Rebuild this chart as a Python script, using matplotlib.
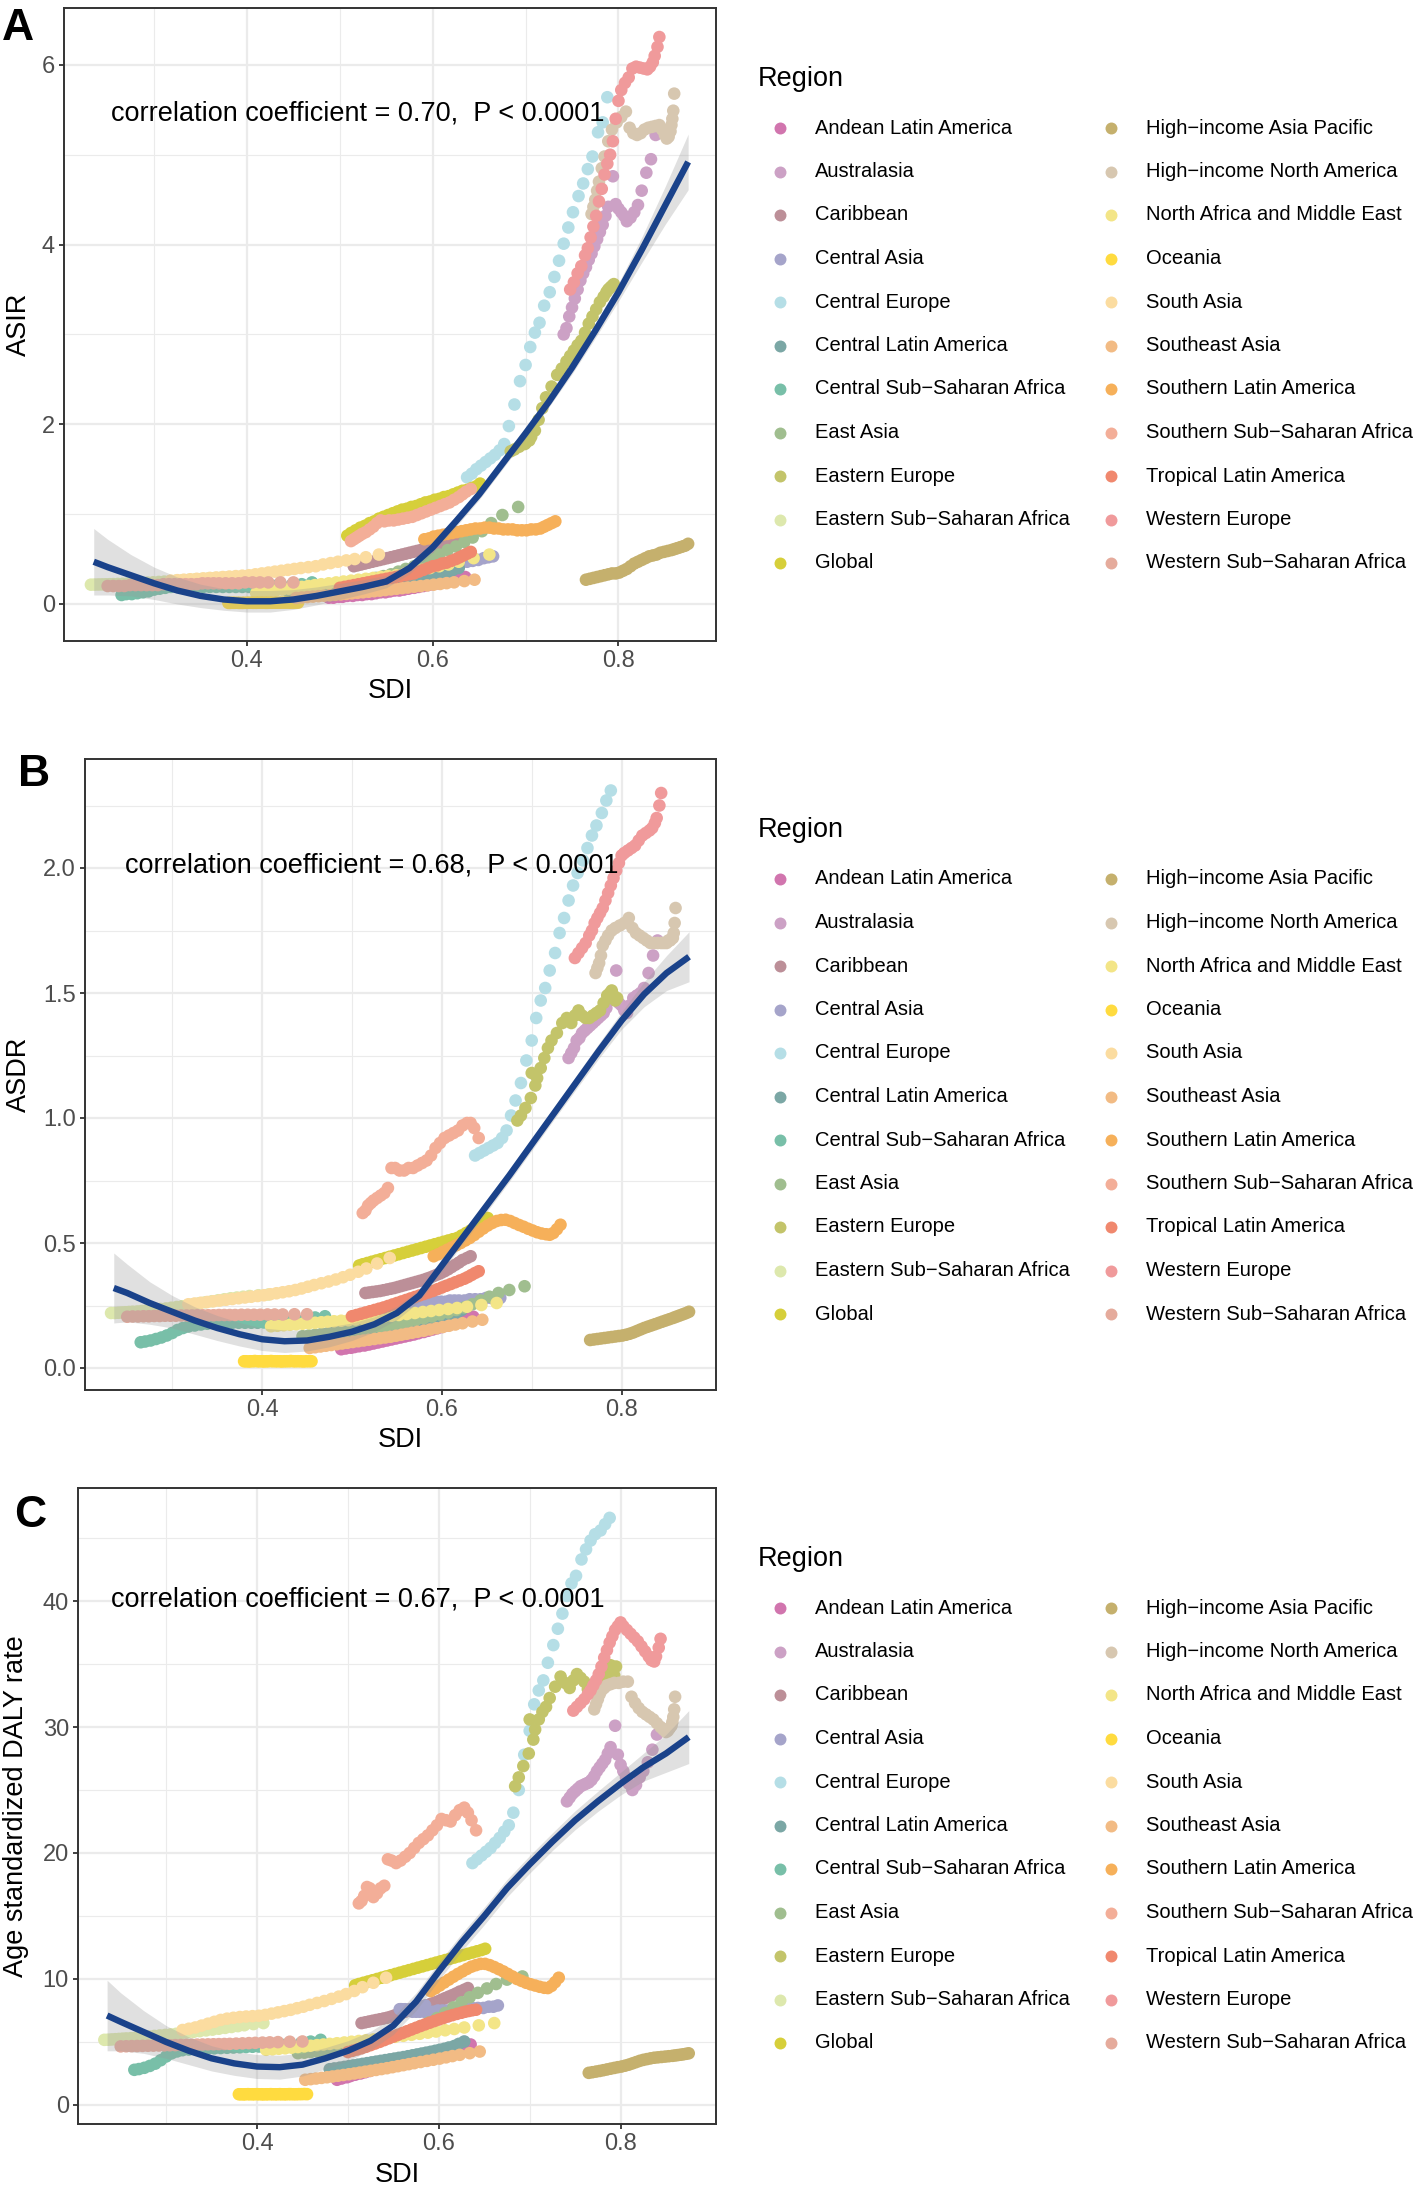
import numpy as np
import matplotlib
matplotlib.use("Agg")
import matplotlib.pyplot as plt
from matplotlib.lines import Line2D

plt.rcParams["font.family"] = ["Liberation Sans", "DejaVu Sans"]

W, H = 1416, 2186

regions = [
    "Andean Latin America", "Australasia", "Caribbean", "Central Asia",
    "Central Europe", "Central Latin America", "Central Sub\u2212Saharan Africa",
    "East Asia", "Eastern Europe", "Eastern Sub\u2212Saharan Africa", "Global",
    "High\u2212income Asia Pacific", "High\u2212income North America",
    "North Africa and Middle East", "Oceania", "South Asia", "Southeast Asia",
    "Southern Latin America", "Southern Sub\u2212Saharan Africa",
    "Tropical Latin America", "Western Europe", "Western Sub\u2212Saharan Africa",
]
colors = [
    "#D175AE", "#CCA1C5", "#BC8F98", "#A5A4CA", "#B5DEE6", "#7BA7A5", "#78BFA8",
    "#A0BE8F", "#C3C46A", "#DDE8AD", "#D6CF3A", "#C5B06D", "#D7C7B0", "#F3E587",
    "#FFDB3F", "#FBDCA0", "#F2BB84", "#F6B05A", "#F3AE98", "#F0886E", "#F09A9B",
    "#E5AB9C",
]

# SDI per region, 1990-2019 (same order as regions)
sdi_by_region = [
    [0.488,0.493,0.499,0.503,0.508,0.514,0.519,0.524,0.529,0.534,0.539,0.544,0.549,0.554,0.559,0.564,0.569,0.574,0.580,0.585,0.590,0.595,0.600,0.605,0.610,0.615,0.620,0.625,0.630,0.635],
    [0.741,0.744,0.747,0.750,0.753,0.756,0.759,0.762,0.765,0.768,0.771,0.774,0.777,0.780,0.783,0.786,0.789,0.794,0.797,0.800,0.803,0.806,0.809,0.813,0.817,0.821,0.825,0.830,0.835,0.840],
    [0.515,0.519,0.523,0.527,0.531,0.535,0.539,0.543,0.547,0.551,0.555,0.559,0.563,0.567,0.571,0.575,0.579,0.583,0.587,0.591,0.595,0.599,0.603,0.607,0.611,0.615,0.619,0.623,0.628,0.632],
    [0.585,0.580,0.574,0.568,0.563,0.559,0.557,0.558,0.560,0.563,0.567,0.571,0.575,0.579,0.584,0.589,0.594,0.599,0.604,0.609,0.614,0.619,0.625,0.631,0.637,0.643,0.649,0.655,0.660,0.665],
    [0.637,0.642,0.647,0.652,0.657,0.662,0.667,0.672,0.677,0.682,0.688,0.694,0.700,0.705,0.710,0.715,0.720,0.726,0.731,0.736,0.741,0.746,0.751,0.757,0.762,0.767,0.772,0.778,0.783,0.788],
    [0.480,0.485,0.491,0.496,0.501,0.506,0.511,0.516,0.521,0.526,0.531,0.536,0.541,0.546,0.551,0.556,0.561,0.566,0.571,0.576,0.581,0.586,0.591,0.596,0.601,0.606,0.611,0.617,0.622,0.628],
    [0.265,0.270,0.276,0.282,0.288,0.294,0.300,0.306,0.312,0.318,0.325,0.332,0.339,0.346,0.353,0.360,0.367,0.374,0.381,0.388,0.395,0.402,0.409,0.416,0.423,0.430,0.437,0.448,0.459,0.470],
    [0.445,0.452,0.459,0.466,0.473,0.480,0.487,0.494,0.501,0.508,0.515,0.523,0.531,0.539,0.547,0.555,0.563,0.571,0.580,0.589,0.598,0.607,0.616,0.625,0.634,0.643,0.653,0.663,0.675,0.692],
    [0.684,0.688,0.693,0.699,0.704,0.700,0.706,0.710,0.714,0.718,0.722,0.728,0.734,0.739,0.744,0.748,0.752,0.756,0.760,0.764,0.768,0.772,0.776,0.780,0.784,0.787,0.789,0.791,0.793,0.795],
    [0.232,0.236,0.240,0.244,0.248,0.252,0.256,0.261,0.266,0.271,0.276,0.281,0.287,0.293,0.299,0.305,0.311,0.317,0.323,0.330,0.337,0.344,0.351,0.358,0.365,0.372,0.379,0.386,0.396,0.407],
    [0.508,0.512,0.517,0.522,0.527,0.532,0.537,0.542,0.547,0.552,0.557,0.562,0.567,0.572,0.577,0.582,0.587,0.592,0.597,0.602,0.607,0.612,0.617,0.622,0.627,0.632,0.637,0.642,0.647,0.651],
    [0.765,0.769,0.773,0.777,0.781,0.785,0.789,0.793,0.797,0.801,0.805,0.809,0.813,0.817,0.821,0.825,0.829,0.833,0.837,0.841,0.845,0.849,0.853,0.857,0.860,0.863,0.866,0.869,0.872,0.875],
    [0.771,0.773,0.775,0.777,0.779,0.782,0.785,0.789,0.793,0.798,0.803,0.808,0.812,0.816,0.820,0.824,0.828,0.832,0.836,0.840,0.844,0.847,0.850,0.852,0.854,0.856,0.857,0.858,0.859,0.860],
    [0.410,0.417,0.424,0.431,0.438,0.445,0.452,0.459,0.466,0.473,0.480,0.488,0.496,0.504,0.512,0.520,0.528,0.536,0.544,0.552,0.561,0.570,0.579,0.588,0.597,0.607,0.617,0.628,0.644,0.661],
    [0.380,0.382,0.385,0.387,0.390,0.392,0.395,0.397,0.400,0.402,0.405,0.407,0.410,0.412,0.415,0.417,0.420,0.422,0.425,0.427,0.430,0.432,0.435,0.437,0.440,0.443,0.446,0.449,0.452,0.455],
    [0.318,0.325,0.332,0.339,0.346,0.353,0.360,0.367,0.374,0.381,0.388,0.395,0.402,0.409,0.416,0.423,0.430,0.437,0.444,0.451,0.458,0.466,0.474,0.482,0.490,0.498,0.507,0.516,0.528,0.542],
    [0.453,0.459,0.465,0.471,0.477,0.483,0.489,0.495,0.501,0.507,0.513,0.519,0.525,0.531,0.537,0.543,0.549,0.555,0.561,0.567,0.573,0.580,0.587,0.594,0.601,0.608,0.615,0.623,0.634,0.645],
    [0.591,0.596,0.601,0.606,0.611,0.616,0.621,0.626,0.631,0.636,0.641,0.646,0.651,0.656,0.661,0.666,0.671,0.676,0.681,0.686,0.691,0.696,0.701,0.706,0.711,0.716,0.720,0.724,0.728,0.732],
    [0.512,0.515,0.518,0.521,0.524,0.528,0.532,0.536,0.540,0.544,0.548,0.553,0.558,0.563,0.568,0.573,0.578,0.583,0.588,0.593,0.598,0.603,0.608,0.613,0.618,0.623,0.628,0.632,0.636,0.641],
    [0.500,0.505,0.510,0.515,0.520,0.525,0.530,0.535,0.540,0.545,0.550,0.555,0.560,0.565,0.570,0.575,0.580,0.585,0.590,0.595,0.600,0.605,0.610,0.615,0.620,0.625,0.629,0.633,0.637,0.641],
    [0.748,0.752,0.756,0.760,0.764,0.767,0.770,0.773,0.776,0.779,0.782,0.785,0.788,0.791,0.794,0.797,0.800,0.803,0.807,0.811,0.815,0.819,0.823,0.827,0.831,0.834,0.837,0.839,0.842,0.844],
    [0.250,0.256,0.262,0.268,0.274,0.280,0.286,0.292,0.298,0.304,0.310,0.316,0.322,0.328,0.334,0.340,0.346,0.352,0.358,0.364,0.370,0.377,0.384,0.391,0.398,0.406,0.414,0.423,0.436,0.450],
]

# age-standardized incidence rate
asir_by_region = [
    [0.07,0.07,0.08,0.08,0.09,0.09,0.10,0.10,0.11,0.11,0.12,0.13,0.13,0.14,0.15,0.15,0.16,0.17,0.18,0.19,0.20,0.21,0.22,0.23,0.24,0.25,0.26,0.27,0.28,0.30],
    [3.00,3.07,3.20,3.30,3.40,3.50,3.60,3.68,3.75,3.83,3.90,3.98,4.06,4.14,4.22,4.32,4.42,4.76,4.45,4.40,4.36,4.32,4.26,4.30,4.36,4.44,4.60,4.80,4.95,5.22],
    [0.42,0.43,0.44,0.45,0.46,0.47,0.48,0.49,0.50,0.51,0.52,0.53,0.54,0.55,0.56,0.57,0.58,0.59,0.60,0.61,0.62,0.63,0.64,0.65,0.66,0.67,0.69,0.72,0.75,0.79],
    [0.36,0.35,0.34,0.33,0.33,0.32,0.32,0.32,0.33,0.33,0.34,0.35,0.35,0.36,0.37,0.38,0.39,0.40,0.41,0.42,0.43,0.44,0.45,0.46,0.47,0.48,0.49,0.51,0.52,0.53],
    [1.41,1.45,1.50,1.54,1.58,1.62,1.66,1.71,1.78,1.98,2.22,2.48,2.66,2.86,3.02,3.13,3.32,3.47,3.64,3.82,4.01,4.19,4.36,4.54,4.68,4.84,4.98,5.25,5.36,5.64],
    [0.10,0.11,0.11,0.12,0.13,0.13,0.14,0.15,0.16,0.16,0.17,0.18,0.19,0.20,0.21,0.22,0.23,0.24,0.25,0.26,0.27,0.28,0.29,0.30,0.31,0.33,0.34,0.36,0.38,0.40],
    [0.10,0.11,0.11,0.12,0.13,0.14,0.16,0.17,0.18,0.19,0.19,0.19,0.19,0.19,0.19,0.19,0.19,0.19,0.19,0.19,0.19,0.19,0.19,0.20,0.20,0.20,0.20,0.21,0.22,0.24],
    [0.13,0.14,0.15,0.16,0.17,0.18,0.19,0.20,0.21,0.22,0.24,0.25,0.27,0.29,0.31,0.33,0.36,0.39,0.42,0.46,0.50,0.55,0.60,0.64,0.69,0.74,0.81,0.90,0.99,1.08],
    [1.70,1.72,1.75,1.78,1.82,1.79,1.86,1.93,2.05,2.18,2.30,2.42,2.55,2.62,2.70,2.76,2.82,2.88,2.93,3.02,3.12,3.20,3.28,3.36,3.42,3.47,3.50,3.52,3.54,3.56],
    [0.215,0.216,0.217,0.218,0.219,0.220,0.221,0.223,0.225,0.227,0.229,0.232,0.235,0.238,0.241,0.245,0.249,0.253,0.258,0.263,0.268,0.273,0.278,0.283,0.288,0.292,0.296,0.300,0.305,0.310],
    [0.76,0.79,0.82,0.85,0.87,0.90,0.92,0.95,0.97,0.99,1.01,1.03,1.05,1.06,1.08,1.09,1.11,1.13,1.14,1.16,1.17,1.19,1.20,1.22,1.24,1.26,1.27,1.29,1.31,1.34],
    [0.27,0.28,0.29,0.30,0.31,0.32,0.33,0.34,0.34,0.35,0.37,0.39,0.42,0.45,0.47,0.49,0.51,0.53,0.54,0.55,0.57,0.58,0.59,0.60,0.61,0.62,0.63,0.64,0.65,0.67],
    [4.34,4.42,4.50,4.60,4.70,4.85,4.98,5.15,5.28,5.36,5.42,5.48,5.30,5.24,5.22,5.24,5.28,5.30,5.31,5.32,5.33,5.28,5.22,5.18,5.20,5.26,5.33,5.40,5.49,5.68],
    [0.12,0.13,0.14,0.15,0.16,0.17,0.18,0.19,0.20,0.21,0.22,0.23,0.24,0.25,0.26,0.27,0.28,0.29,0.30,0.31,0.32,0.34,0.36,0.38,0.40,0.42,0.44,0.47,0.51,0.55],
    [0.012,0.012,0.013,0.013,0.013,0.012,0.012,0.013,0.013,0.014,0.014,0.013,0.013,0.014,0.014,0.014,0.013,0.013,0.014,0.014,0.015,0.014,0.014,0.015,0.015,0.015,0.014,0.015,0.015,0.015],
    [0.260,0.265,0.270,0.275,0.280,0.285,0.290,0.295,0.300,0.305,0.310,0.315,0.320,0.330,0.340,0.350,0.360,0.370,0.380,0.390,0.400,0.410,0.420,0.440,0.455,0.470,0.485,0.500,0.520,0.550],
    [0.067,0.072,0.077,0.082,0.087,0.092,0.097,0.102,0.107,0.112,0.118,0.124,0.130,0.136,0.142,0.148,0.155,0.162,0.169,0.176,0.183,0.191,0.199,0.207,0.215,0.223,0.232,0.241,0.255,0.270],
    [0.72,0.73,0.75,0.76,0.77,0.78,0.79,0.80,0.81,0.82,0.83,0.84,0.84,0.85,0.85,0.84,0.84,0.83,0.83,0.83,0.82,0.82,0.82,0.83,0.83,0.84,0.86,0.88,0.90,0.92],
    [0.70,0.72,0.74,0.76,0.78,0.80,0.83,0.86,0.90,0.93,0.92,0.93,0.93,0.94,0.95,0.96,0.97,0.99,1.01,1.03,1.05,1.07,1.09,1.11,1.13,1.16,1.19,1.22,1.25,1.28],
    [0.18,0.19,0.20,0.21,0.22,0.23,0.24,0.25,0.26,0.27,0.28,0.29,0.30,0.31,0.32,0.33,0.34,0.36,0.38,0.40,0.42,0.43,0.45,0.46,0.48,0.50,0.52,0.54,0.56,0.58],
    [3.50,3.58,3.68,3.76,3.88,3.96,4.08,4.20,4.32,4.48,4.62,4.78,4.90,5.00,5.15,5.40,5.60,5.72,5.80,5.86,5.96,5.98,5.97,5.96,5.95,5.98,6.03,6.10,6.20,6.31],
    [0.20,0.20,0.20,0.20,0.21,0.21,0.21,0.21,0.21,0.21,0.22,0.22,0.22,0.22,0.22,0.22,0.22,0.23,0.23,0.23,0.23,0.23,0.23,0.23,0.24,0.24,0.24,0.24,0.24,0.24],
]

# age-standardized death rate
asdr_by_region = [
    [0.075,0.078,0.081,0.084,0.087,0.090,0.094,0.098,0.102,0.106,0.110,0.114,0.118,0.122,0.126,0.130,0.134,0.139,0.144,0.149,0.154,0.159,0.164,0.170,0.176,0.182,0.188,0.194,0.200,0.205],
    [1.24,1.26,1.28,1.31,1.32,1.34,1.35,1.36,1.37,1.38,1.39,1.40,1.41,1.42,1.44,1.47,1.50,1.59,1.46,1.45,1.43,1.42,1.45,1.48,1.49,1.50,1.52,1.58,1.65,1.71],
    [0.300,0.302,0.304,0.306,0.308,0.311,0.314,0.317,0.320,0.324,0.328,0.332,0.336,0.340,0.344,0.348,0.352,0.357,0.362,0.368,0.374,0.380,0.387,0.395,0.404,0.413,0.422,0.432,0.440,0.447],
    [0.250,0.250,0.245,0.240,0.240,0.240,0.240,0.245,0.245,0.250,0.250,0.255,0.255,0.260,0.260,0.260,0.265,0.265,0.265,0.270,0.270,0.270,0.270,0.275,0.275,0.275,0.280,0.280,0.280,0.280],
    [0.85,0.86,0.87,0.88,0.89,0.90,0.92,0.95,1.01,1.07,1.14,1.23,1.31,1.40,1.47,1.52,1.59,1.66,1.74,1.80,1.87,1.93,1.98,2.03,2.08,2.13,2.17,2.22,2.27,2.31],
    [0.125,0.128,0.131,0.134,0.137,0.140,0.143,0.146,0.149,0.152,0.155,0.158,0.161,0.164,0.167,0.170,0.173,0.177,0.181,0.185,0.189,0.193,0.197,0.201,0.205,0.210,0.215,0.222,0.232,0.245],
    [0.103,0.106,0.110,0.116,0.122,0.130,0.140,0.152,0.160,0.166,0.170,0.174,0.177,0.179,0.180,0.181,0.181,0.181,0.181,0.181,0.181,0.182,0.183,0.184,0.186,0.188,0.191,0.196,0.202,0.207],
    [0.127,0.130,0.133,0.136,0.139,0.142,0.145,0.148,0.151,0.154,0.158,0.162,0.166,0.170,0.175,0.180,0.186,0.192,0.199,0.206,0.214,0.222,0.232,0.242,0.255,0.270,0.285,0.300,0.312,0.327],
    [0.99,1.01,1.04,1.08,1.13,1.18,1.16,1.20,1.24,1.28,1.31,1.34,1.38,1.40,1.38,1.41,1.43,1.41,1.40,1.40,1.41,1.42,1.43,1.46,1.49,1.50,1.51,1.49,1.47,1.48],
    [0.220,0.220,0.221,0.222,0.223,0.224,0.225,0.226,0.228,0.230,0.232,0.234,0.236,0.238,0.241,0.244,0.247,0.251,0.255,0.259,0.263,0.267,0.271,0.275,0.279,0.282,0.285,0.288,0.291,0.294],
    [0.410,0.415,0.420,0.425,0.430,0.435,0.440,0.445,0.450,0.455,0.460,0.465,0.470,0.475,0.480,0.485,0.490,0.495,0.500,0.505,0.510,0.515,0.520,0.530,0.540,0.550,0.560,0.570,0.585,0.600],
    [0.112,0.114,0.116,0.118,0.120,0.122,0.124,0.126,0.128,0.130,0.133,0.137,0.142,0.148,0.154,0.160,0.165,0.170,0.175,0.180,0.185,0.190,0.195,0.200,0.204,0.208,0.212,0.216,0.220,0.225],
    [1.58,1.60,1.62,1.65,1.69,1.71,1.73,1.75,1.76,1.77,1.78,1.80,1.76,1.74,1.73,1.72,1.71,1.70,1.70,1.70,1.70,1.70,1.70,1.71,1.71,1.72,1.72,1.74,1.78,1.84],
    [0.167,0.169,0.171,0.173,0.175,0.177,0.179,0.181,0.183,0.185,0.187,0.189,0.191,0.194,0.197,0.200,0.203,0.206,0.209,0.212,0.216,0.220,0.224,0.228,0.232,0.236,0.240,0.245,0.252,0.260],
    [0.027,0.027,0.026,0.027,0.027,0.028,0.027,0.027,0.027,0.026,0.027,0.027,0.028,0.027,0.027,0.027,0.027,0.026,0.027,0.027,0.027,0.028,0.027,0.027,0.027,0.027,0.026,0.027,0.027,0.027],
    [0.255,0.258,0.261,0.264,0.267,0.270,0.273,0.276,0.279,0.282,0.285,0.288,0.291,0.295,0.299,0.303,0.307,0.312,0.318,0.325,0.332,0.339,0.346,0.354,0.363,0.373,0.385,0.398,0.418,0.440],
    [0.080,0.083,0.086,0.089,0.092,0.095,0.098,0.101,0.104,0.107,0.110,0.113,0.116,0.119,0.122,0.125,0.129,0.133,0.137,0.141,0.145,0.149,0.154,0.159,0.164,0.169,0.174,0.179,0.186,0.193],
    [0.447,0.455,0.464,0.473,0.482,0.491,0.500,0.510,0.520,0.532,0.545,0.558,0.570,0.580,0.588,0.592,0.593,0.588,0.580,0.572,0.565,0.557,0.550,0.543,0.538,0.535,0.533,0.540,0.555,0.573],
    [0.62,0.63,0.65,0.66,0.67,0.68,0.69,0.70,0.72,0.80,0.80,0.79,0.79,0.80,0.80,0.81,0.82,0.83,0.85,0.88,0.90,0.92,0.93,0.94,0.95,0.97,0.98,0.98,0.96,0.92],
    [0.207,0.212,0.217,0.222,0.227,0.232,0.237,0.242,0.248,0.254,0.260,0.266,0.272,0.278,0.284,0.290,0.296,0.302,0.308,0.315,0.322,0.329,0.336,0.343,0.350,0.357,0.364,0.372,0.380,0.387],
    [1.64,1.66,1.68,1.70,1.73,1.75,1.78,1.80,1.82,1.84,1.87,1.90,1.93,1.96,1.99,2.02,2.05,2.06,2.07,2.08,2.09,2.11,2.13,2.14,2.15,2.16,2.18,2.20,2.25,2.30],
    [0.205,0.206,0.206,0.207,0.207,0.208,0.208,0.209,0.209,0.209,0.210,0.210,0.210,0.211,0.211,0.211,0.211,0.212,0.212,0.212,0.212,0.213,0.213,0.213,0.213,0.214,0.214,0.214,0.215,0.215],
]

# age-standardized DALY rate
daly_by_region = [
    [2.00,2.10,2.20,2.30,2.40,2.50,2.60,2.70,2.80,2.90,3.00,3.10,3.20,3.30,3.40,3.50,3.60,3.70,3.80,3.90,4.00,4.10,4.20,4.30,4.40,4.50,4.60,4.68,4.74,4.80],
    [24.1,24.4,24.7,24.9,25.1,25.3,25.4,25.5,25.6,25.8,26.1,26.5,26.8,27.1,27.4,27.9,28.4,30.1,27.8,27.0,26.5,26.0,25.5,25.0,25.4,26.0,26.5,27.2,28.2,29.4],
    [6.50,6.56,6.62,6.68,6.74,6.80,6.86,6.92,7.00,7.10,7.20,7.30,7.40,7.50,7.58,7.66,7.74,7.82,7.92,8.02,8.12,8.22,8.35,8.48,8.60,8.72,8.85,9.00,9.15,9.28],
    [7.90,7.80,7.70,7.60,7.60,7.60,7.60,7.60,7.50,7.50,7.50,7.40,7.40,7.40,7.40,7.40,7.40,7.50,7.50,7.50,7.50,7.60,7.60,7.60,7.70,7.70,7.70,7.80,7.80,7.90],
    [19.2,19.5,19.8,20.1,20.4,20.8,21.2,21.7,22.2,23.2,25.0,27.8,29.7,31.8,32.9,33.7,35.1,36.5,37.8,39.0,40.4,41.4,42.0,43.3,44.1,44.8,45.3,45.6,46.1,46.6],
    [2.84,2.90,2.96,3.02,3.08,3.14,3.20,3.26,3.32,3.38,3.44,3.50,3.56,3.62,3.68,3.74,3.80,3.87,3.94,4.01,4.08,4.15,4.22,4.30,4.38,4.46,4.56,4.68,4.85,5.04],
    [2.79,2.85,2.95,3.10,3.28,3.55,3.85,4.10,4.25,4.35,4.40,4.43,4.46,4.48,4.50,4.52,4.54,4.56,4.58,4.60,4.62,4.64,4.66,4.68,4.72,4.76,4.80,4.90,5.03,5.17],
    [4.11,4.15,4.20,4.25,4.30,4.37,4.45,4.53,4.62,4.72,4.83,4.95,5.08,5.22,5.38,5.55,5.75,5.98,6.25,6.55,6.90,7.30,7.75,8.15,8.55,8.90,9.25,9.60,9.95,10.2],
    [25.3,26.0,26.9,27.9,29.0,30.6,29.8,30.6,31.2,31.6,32.3,33.2,34.0,33.5,33.1,33.7,34.2,33.9,33.6,33.0,32.7,32.9,33.2,33.5,34.0,34.5,34.9,34.6,34.1,34.8],
    [5.17,5.18,5.20,5.22,5.24,5.26,5.28,5.30,5.33,5.36,5.40,5.44,5.48,5.52,5.56,5.60,5.65,5.70,5.75,5.80,5.86,5.92,5.98,6.05,6.12,6.19,6.26,6.33,6.42,6.50],
    [9.50,9.60,9.70,9.80,9.90,10.0,10.1,10.2,10.3,10.4,10.5,10.6,10.7,10.8,10.9,11.0,11.1,11.2,11.3,11.4,11.5,11.6,11.7,11.8,11.9,12.0,12.1,12.2,12.3,12.4],
    [2.55,2.60,2.65,2.70,2.76,2.82,2.88,2.94,3.00,3.05,3.12,3.20,3.30,3.40,3.50,3.58,3.64,3.70,3.75,3.78,3.81,3.84,3.87,3.90,3.93,3.96,3.99,4.02,4.06,4.10],
    [31.4,31.8,32.2,32.6,32.9,33.1,33.3,33.4,33.5,33.5,33.6,33.6,32.4,31.9,31.5,31.2,31.0,30.8,30.6,30.3,30.0,29.8,29.6,29.7,29.9,30.1,30.4,30.8,31.4,32.4],
    [4.38,4.42,4.46,4.50,4.55,4.60,4.65,4.70,4.75,4.80,4.85,4.90,4.96,5.02,5.08,5.14,5.20,5.27,5.34,5.41,5.49,5.57,5.65,5.74,5.83,5.93,6.03,6.15,6.32,6.50],
    [0.85,0.85,0.84,0.85,0.86,0.85,0.85,0.85,0.86,0.85,0.85,0.84,0.85,0.85,0.86,0.85,0.85,0.85,0.86,0.85,0.85,0.85,0.86,0.86,0.85,0.85,0.86,0.86,0.87,0.86],
    [5.95,6.05,6.15,6.30,6.45,6.60,6.75,6.85,6.92,6.98,7.02,7.05,7.08,7.15,7.25,7.35,7.45,7.55,7.68,7.80,7.95,8.10,8.25,8.42,8.60,8.80,9.05,9.35,9.70,10.1],
    [2.00,2.05,2.10,2.15,2.20,2.26,2.32,2.38,2.44,2.50,2.57,2.64,2.71,2.78,2.85,2.92,3.00,3.08,3.16,3.24,3.32,3.41,3.50,3.59,3.68,3.78,3.88,3.98,4.11,4.24],
    [9.04,9.25,9.48,9.72,9.95,10.18,10.40,10.60,10.80,10.98,11.10,11.20,11.20,11.10,10.95,10.78,10.60,10.40,10.20,10.00,9.85,9.70,9.58,9.48,9.38,9.30,9.28,9.45,9.75,10.1],
    [16.0,16.2,16.6,17.3,17.2,16.5,16.8,17.2,17.4,19.5,19.4,19.2,19.4,19.7,20.0,20.4,20.8,21.1,21.4,21.8,22.2,22.7,22.6,22.5,23.0,23.4,23.6,23.2,22.6,21.8],
    [4.20,4.30,4.40,4.50,4.62,4.75,4.88,5.01,5.15,5.29,5.43,5.57,5.71,5.85,5.99,6.13,6.27,6.40,6.53,6.66,6.78,6.90,7.02,7.13,7.23,7.32,7.40,7.46,7.52,7.56],
    [31.3,31.6,31.9,32.2,32.6,32.9,33.3,33.7,34.2,34.8,35.5,36.1,36.7,37.2,37.7,38.0,38.3,38.0,37.7,37.4,37.1,36.8,36.4,36.0,35.6,35.3,35.2,35.6,36.3,37.0],
    [4.65,4.66,4.67,4.68,4.69,4.70,4.71,4.72,4.73,4.74,4.75,4.76,4.77,4.78,4.79,4.80,4.81,4.82,4.83,4.84,4.85,4.87,4.89,4.91,4.93,4.95,4.97,4.99,5.02,5.04],
]

# loess smooth (fit and 95% CI half-width)
smooth_sdi = [0.235,0.25,0.275,0.30,0.325,0.35,0.375,0.40,0.425,0.45,0.475,0.50,0.525,0.55,
              0.575,0.60,0.625,0.65,0.675,0.70,0.725,0.75,0.775,0.80,0.825,0.85,0.875]
asir_fit = [0.47,0.41,0.32,0.23,0.15,0.09,0.05,0.03,0.03,0.05,0.09,0.14,0.19,0.25,
            0.40,0.63,0.92,1.22,1.56,1.90,2.25,2.63,3.04,3.47,3.94,4.43,4.92]
asir_ci = [0.37,0.31,0.23,0.18,0.15,0.13,0.12,0.12,0.12,0.11,0.10,0.09,0.08,0.07,
           0.065,0.06,0.06,0.06,0.06,0.06,0.06,0.07,0.08,0.10,0.14,0.21,0.31]
asdr_fit = [0.32,0.30,0.26,0.225,0.19,0.16,0.135,0.115,0.107,0.11,0.125,0.145,0.175,0.22,
            0.29,0.41,0.53,0.65,0.77,0.895,1.02,1.145,1.27,1.39,1.495,1.58,1.645]
asdr_ci = [0.14,0.115,0.085,0.065,0.055,0.05,0.047,0.045,0.045,0.042,0.04,0.035,0.03,0.027,
           0.025,0.025,0.025,0.025,0.025,0.025,0.025,0.027,0.03,0.035,0.05,0.07,0.10]
daly_fit = [7.1,6.6,5.8,5.0,4.3,3.7,3.3,3.05,3.0,3.2,3.7,4.3,5.1,6.3,
            8.2,10.6,12.9,15.0,17.2,19.1,20.9,22.6,24.1,25.5,26.8,27.9,29.2]
daly_ci = [2.8,2.3,1.7,1.3,1.1,1.0,0.95,0.95,0.95,0.9,0.85,0.8,0.75,0.7,
           0.7,0.7,0.7,0.7,0.7,0.7,0.7,0.75,0.8,0.9,1.1,1.5,2.1]

corr_values = ["0.70", "0.68", "0.67"]
y_titles = ["ASIR", "ASDR", "Age standardized DALY rate"]
panel_letters = ["A", "B", "C"]


def px_rect(left, top, right, bottom):
    return [left / W, 1 - bottom / H, (right - left) / W, (bottom - top) / H]


panels = [
    dict(vals=asir_by_region, fit=asir_fit, ci=asir_ci, rect=(64, 8, 716, 641),
         ylim=(-0.412, 6.633), yticks=[0, 2, 4, 6], yminor=[1, 3, 5], fmt="{:.0f}",
         text_xy=(0.254, 5.46), ylab_x=-0.049, letter_xy=(2, 40)),
    dict(vals=asdr_by_region, fit=asdr_fit, ci=asdr_ci, rect=(85, 759, 716, 1390),
         ylim=(-0.088, 2.436), yticks=[0, 0.5, 1.0, 1.5, 2.0],
         yminor=[0.25, 0.75, 1.25, 1.75, 2.25], fmt="{:.1f}",
         text_xy=(0.247, 2.008), ylab_x=-0.084, letter_xy=(18, 786)),
    dict(vals=daly_by_region, fit=daly_fit, ci=daly_ci, rect=(78, 1488, 716, 2124),
         ylim=(-1.51, 48.97), yticks=[0, 10, 20, 30, 40], yminor=[5, 15, 25, 35, 45],
         fmt="{:.0f}", text_xy=(0.2396, 40.1), ylab_x=-0.077, letter_xy=(14, 1527)),
]

fig = plt.figure(figsize=(W / 100, H / 100), dpi=100)
grid_col = "#EBEBEB"
dark = "#333333"

for k, p in enumerate(panels):
    ax = fig.add_axes(px_rect(*p["rect"]))
    for name, col, xs, ys in zip(regions, colors, sdi_by_region, p["vals"]):
        ax.scatter(xs, ys, s=82, color=col, edgecolors="none", zorder=3)

    fit = np.array(p["fit"])
    ci = np.array(p["ci"])
    ax.fill_between(smooth_sdi, fit - ci, fit + ci, color="#999999",
                    alpha=0.3, linewidth=0, zorder=4)
    ax.plot(smooth_sdi, fit, color="#1A428A", lw=4.6, zorder=5,
            solid_capstyle="butt", solid_joinstyle="round")

    ax.set_xlim(0.203, 0.905)
    ax.set_ylim(*p["ylim"])
    ax.set_xticks([0.4, 0.6, 0.8])
    ax.set_xticklabels(["0.4", "0.6", "0.8"])
    ax.set_xticks([0.3, 0.5, 0.7], minor=True)
    ax.set_yticks(p["yticks"])
    ax.set_yticklabels([p["fmt"].format(v) for v in p["yticks"]])
    ax.set_yticks(p["yminor"], minor=True)
    ax.grid(True, which="major", color=grid_col, lw=1.6, zorder=0)
    ax.grid(True, which="minor", color=grid_col, lw=0.8, zorder=0)
    ax.set_axisbelow(True)
    ax.tick_params(which="major", length=3.6, width=1.3, color=dark,
                   labelsize=17, labelcolor="#4D4D4D", pad=3)
    ax.tick_params(which="minor", length=0)
    for sp in ax.spines.values():
        sp.set_color(dark)
        sp.set_linewidth(1.4)
    ax.set_xlabel("SDI", fontsize=19.5)
    ax.xaxis.set_label_coords(0.5, -0.059)
    ax.set_ylabel(y_titles[k], fontsize=19.5)
    ax.yaxis.set_label_coords(p["ylab_x"], 0.5)
    ax.text(p["text_xy"][0], p["text_xy"][1],
            f"correlation coefficient = {corr_values[k]},  P < 0.0001",
            fontsize=19.5, ha="left", va="center", zorder=6)

    lx, ly = p["letter_xy"]
    fig.text(lx / W, 1 - ly / H, panel_letters[k], fontsize=32,
             fontweight="bold", ha="left", va="baseline")

    # legend on the right
    top = p["rect"][1]
    row0 = top + 120
    fig.text(758 / W, 1 - (row0 - 49) / H, "Region", fontsize=19.5,
             ha="left", va="center")
    for i, (name, col) in enumerate(zip(regions, colors)):
        c, r = divmod(i, 11)
        yy = 1 - (row0 + r * 43.5) / H
        xd = 780 + c * 331
        fig.add_artist(Line2D([xd / W], [yy], transform=fig.transFigure,
                              marker="o", markersize=8.6, color=col,
                              markeredgewidth=0, linestyle="none"))
        fig.text((xd + 35) / W, yy, name, fontsize=14.5, ha="left", va="center")

fig.savefig("out.png", dpi=100)
